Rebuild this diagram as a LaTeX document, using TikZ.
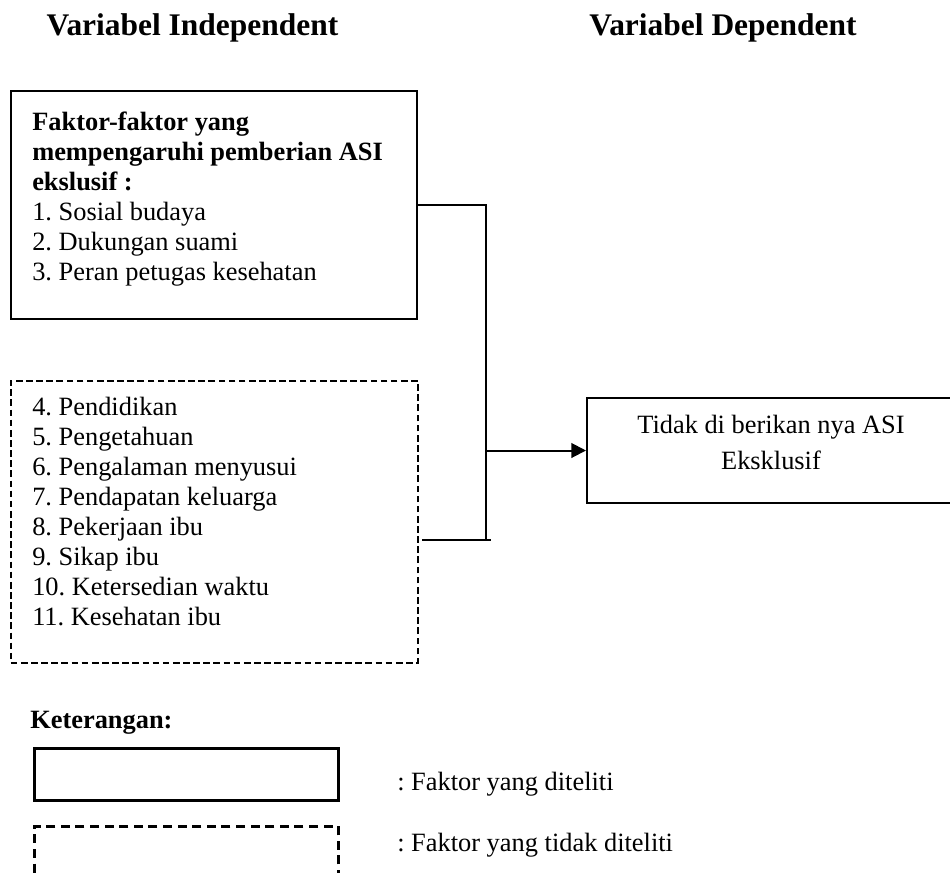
\documentclass[tikz,border=0pt]{standalone}
\usepackage{fontspec}
\setmainfont{Liberation Serif}
\usetikzlibrary{arrows.meta}
\frenchspacing
\tikzset{
  solidbox/.style={draw, line width=1.5pt, inner sep=0pt, anchor=north west},
  dashbox/.style={draw, line width=1.2pt, dash pattern=on 5pt off 2.6pt, inner sep=0pt, anchor=north west},
  legsolid/.style={draw, line width=1.9pt, inner sep=0pt, anchor=north west},
  legdash/.style={draw, line width=1.9pt, dash pattern=on 6.75pt off 4.2pt, inner sep=0pt, anchor=north west},
  conn/.style={line width=1.5pt},
  body/.style={font=\fontsize{19.8pt}{22.5pt}\selectfont\frenchspacing, inner sep=0pt},
  hdr/.style={font=\fontsize{23.6pt}{28pt}\selectfont\bfseries, inner sep=0pt, anchor=base},
}
\begin{document}
\begin{tikzpicture}[x=0.75pt, y=-0.75pt]
\useasboundingbox (0,0) rectangle (950,872);
\clip (0,0) rectangle (950,872);
% headers
\node[hdr] (h1) at (192.5,35) {Variabel Independent};
\node[hdr] (h2) at (723,35) {Variabel Dependent};
% box 1 (studied factors)
\node[solidbox, minimum width=406*0.75pt, minimum height=228*0.75pt] (f1) at (10,90) {};
\node[body, align=left, anchor=north west] (f1t) at (32,112)
  {\textbf{Faktor-faktor yang}\\
   \textbf{mempengaruhi pemberian ASI}\\
   \textbf{ekslusif :}\\
   1. Sosial budaya\\
   2. Dukungan suami\\
   3. Peran petugas kesehatan};
% box 2 (not studied)
\node[dashbox, minimum width=407*0.75pt, minimum height=282*0.75pt] (f2) at (10,380) {};
\node[body, align=left, anchor=north west] (f2t) at (32,397)
  {4. Pendidikan\\
   5. Pengetahuan\\
   6. Pengalaman menyusui\\
   7. Pendapatan keluarga\\
   8. Pekerjaan ibu\\
   9. Sikap ibu\\
   10. Ketersedian waktu\\
   11. Kesehatan ibu};
% outcome box
\node[solidbox, minimum width=370*0.75pt, minimum height=105*0.75pt] (out) at (586,397) {};
\node[body, align=center, anchor=north, font=\fontsize{19.8pt}{27pt}\selectfont] (outt) at (771,415)
  {Tidak di berikan nya ASI\\ Eksklusif};
% connectors
\coordinate (j1) at (486,204);
\coordinate (j2) at (486,540);
\coordinate (s2) at (422,540);
\coordinate (e2) at (491,540);
\draw[conn] (f1.east) -- (f1.east -| j1) -- (j2);
\draw[conn] (s2) -- (e2);
\draw[conn, -{Triangle[length=11pt, width=11pt]}] (j1 |- out.west) -- (out.west);
% legend
\node[body, font=\fontsize{19.8pt}{22.5pt}\selectfont\bfseries, anchor=base west] (ket) at (30,728) {Keterangan:};
\node[legsolid, minimum width=304*0.75pt, minimum height=52*0.75pt] (l1) at (33,747) {};
\node[legdash, minimum width=304*0.75pt, minimum height=70*0.75pt] (l2) at (33,825) {};
\node[body, anchor=base west] (l1t) at (397,790) {: Faktor yang diteliti};
\node[body, anchor=base west] (l2t) at (397,851) {: Faktor yang tidak diteliti};
\end{tikzpicture}
\end{document}
